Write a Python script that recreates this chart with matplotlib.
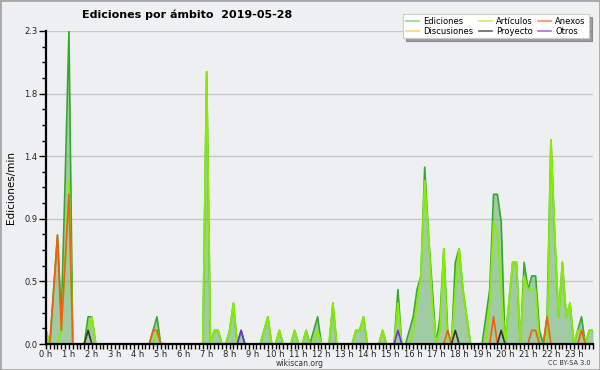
import matplotlib
matplotlib.use('Agg')
import matplotlib.pyplot as plt
import numpy as np
from matplotlib.lines import Line2D
from matplotlib.patches import Rectangle
from matplotlib.ticker import FixedLocator

# 10-minute bins (144 per day), values in edits/min
ediciones = [
    0.1, 0.0, 0.4, 0.8, 0.2, 1.2, 2.3, 0.0, 0.0, 0.0, 0.0, 0.2,
    0.2, 0.0, 0.0, 0.0, 0.0, 0.0, 0.0, 0.0, 0.0, 0.0, 0.0, 0.0,
    0.0, 0.0, 0.0, 0.0, 0.1, 0.2, 0.0, 0.0, 0.0, 0.0, 0.0, 0.0,
    0.0, 0.0, 0.0, 0.0, 0.0, 0.0, 2.0, 0.0, 0.1, 0.1, 0.0, 0.0,
    0.1, 0.3, 0.0, 0.1, 0.0, 0.0, 0.0, 0.0, 0.0, 0.1, 0.2, 0.0,
    0.0, 0.1, 0.0, 0.0, 0.0, 0.1, 0.0, 0.0, 0.1, 0.0, 0.1, 0.2,
    0.0, 0.0, 0.0, 0.3, 0.0, 0.0, 0.0, 0.0, 0.0, 0.1, 0.1, 0.2,
    0.0, 0.0, 0.0, 0.0, 0.1, 0.0, 0.0, 0.0, 0.4, 0.0, 0.0, 0.1,
    0.2, 0.4, 0.5, 1.3, 0.8, 0.4, 0.0, 0.2, 0.7, 0.1, 0.0, 0.6,
    0.7, 0.4, 0.2, 0.0, 0.0, 0.0, 0.0, 0.2, 0.4, 1.1, 1.1, 0.9,
    0.0, 0.3, 0.6, 0.6, 0.0, 0.6, 0.4, 0.5, 0.5, 0.1, 0.0, 0.2,
    1.5, 0.8, 0.2, 0.6, 0.2, 0.3, 0.0, 0.1, 0.2, 0.0, 0.1, 0.1,
]
articulos = [
    0.1, 0.0, 0.0, 0.0, 0.1, 0.6, 1.2, 0.0, 0.0, 0.0, 0.0, 0.1,
    0.2, 0.0, 0.0, 0.0, 0.0, 0.0, 0.0, 0.0, 0.0, 0.0, 0.0, 0.0,
    0.0, 0.0, 0.0, 0.0, 0.0, 0.1, 0.0, 0.0, 0.0, 0.0, 0.0, 0.0,
    0.0, 0.0, 0.0, 0.0, 0.0, 0.0, 2.0, 0.0, 0.1, 0.1, 0.0, 0.0,
    0.1, 0.3, 0.0, 0.0, 0.0, 0.0, 0.0, 0.0, 0.0, 0.1, 0.2, 0.0,
    0.0, 0.1, 0.0, 0.0, 0.0, 0.1, 0.0, 0.0, 0.1, 0.0, 0.0, 0.1,
    0.0, 0.0, 0.0, 0.3, 0.0, 0.0, 0.0, 0.0, 0.0, 0.1, 0.1, 0.2,
    0.0, 0.0, 0.0, 0.0, 0.1, 0.0, 0.0, 0.0, 0.3, 0.0, 0.0, 0.0,
    0.1, 0.3, 0.5, 1.2, 0.8, 0.3, 0.0, 0.1, 0.7, 0.0, 0.0, 0.4,
    0.7, 0.4, 0.2, 0.0, 0.0, 0.0, 0.0, 0.0, 0.3, 0.9, 0.8, 0.4,
    0.0, 0.3, 0.6, 0.6, 0.0, 0.5, 0.4, 0.4, 0.4, 0.0, 0.0, 0.0,
    1.5, 0.8, 0.2, 0.6, 0.2, 0.3, 0.0, 0.1, 0.1, 0.0, 0.1, 0.1,
]
anexos = [
    0.0, 0.0, 0.4, 0.8, 0.1, 0.6, 1.1, 0.0, 0.0, 0.0, 0.0, 0.0,
    0.0, 0.0, 0.0, 0.0, 0.0, 0.0, 0.0, 0.0, 0.0, 0.0, 0.0, 0.0,
    0.0, 0.0, 0.0, 0.0, 0.1, 0.1, 0.0, 0.0, 0.0, 0.0, 0.0, 0.0,
    0.0, 0.0, 0.0, 0.0, 0.0, 0.0, 0.0, 0.0, 0.0, 0.0, 0.0, 0.0,
    0.0, 0.0, 0.0, 0.0, 0.0, 0.0, 0.0, 0.0, 0.0, 0.0, 0.0, 0.0,
    0.0, 0.0, 0.0, 0.0, 0.0, 0.0, 0.0, 0.0, 0.0, 0.0, 0.0, 0.0,
    0.0, 0.0, 0.0, 0.0, 0.0, 0.0, 0.0, 0.0, 0.0, 0.0, 0.0, 0.0,
    0.0, 0.0, 0.0, 0.0, 0.0, 0.0, 0.0, 0.0, 0.0, 0.0, 0.0, 0.0,
    0.0, 0.0, 0.0, 0.0, 0.0, 0.0, 0.0, 0.0, 0.0, 0.1, 0.0, 0.0,
    0.0, 0.0, 0.0, 0.0, 0.0, 0.0, 0.0, 0.0, 0.0, 0.2, 0.0, 0.0,
    0.0, 0.0, 0.0, 0.0, 0.0, 0.0, 0.0, 0.1, 0.1, 0.0, 0.0, 0.2,
    0.0, 0.0, 0.0, 0.0, 0.0, 0.0, 0.0, 0.0, 0.1, 0.0, 0.0, 0.0,
]
discusiones = [
    0.0, 0.0, 0.0, 0.0, 0.0, 0.0, 0.0, 0.0, 0.0, 0.0, 0.0, 0.0,
    0.0, 0.0, 0.0, 0.0, 0.0, 0.0, 0.0, 0.0, 0.0, 0.0, 0.0, 0.0,
    0.0, 0.0, 0.0, 0.0, 0.0, 0.0, 0.0, 0.0, 0.0, 0.0, 0.0, 0.0,
    0.0, 0.0, 0.0, 0.0, 0.0, 0.0, 0.0, 0.0, 0.0, 0.0, 0.0, 0.0,
    0.0, 0.0, 0.0, 0.0, 0.0, 0.0, 0.0, 0.0, 0.0, 0.0, 0.0, 0.0,
    0.0, 0.0, 0.0, 0.0, 0.0, 0.0, 0.0, 0.0, 0.0, 0.0, 0.0, 0.0,
    0.0, 0.0, 0.0, 0.0, 0.0, 0.0, 0.0, 0.0, 0.0, 0.0, 0.0, 0.0,
    0.0, 0.0, 0.0, 0.0, 0.0, 0.0, 0.0, 0.0, 0.0, 0.0, 0.0, 0.0,
    0.0, 0.0, 0.0, 0.0, 0.0, 0.0, 0.0, 0.0, 0.0, 0.0, 0.0, 0.0,
    0.0, 0.0, 0.0, 0.0, 0.0, 0.0, 0.0, 0.0, 0.0, 0.0, 0.0, 0.0,
    0.0, 0.0, 0.0, 0.0, 0.0, 0.0, 0.0, 0.0, 0.0, 0.0, 0.0, 0.0,
    0.0, 0.0, 0.0, 0.0, 0.0, 0.0, 0.0, 0.0, 0.0, 0.0, 0.0, 0.0,
]
proyecto = [
    0.0, 0.0, 0.0, 0.0, 0.0, 0.0, 0.0, 0.0, 0.0, 0.0, 0.0, 0.1,
    0.0, 0.0, 0.0, 0.0, 0.0, 0.0, 0.0, 0.0, 0.0, 0.0, 0.0, 0.0,
    0.0, 0.0, 0.0, 0.0, 0.0, 0.0, 0.0, 0.0, 0.0, 0.0, 0.0, 0.0,
    0.0, 0.0, 0.0, 0.0, 0.0, 0.0, 0.0, 0.0, 0.0, 0.0, 0.0, 0.0,
    0.0, 0.0, 0.0, 0.0, 0.0, 0.0, 0.0, 0.0, 0.0, 0.0, 0.0, 0.0,
    0.0, 0.0, 0.0, 0.0, 0.0, 0.0, 0.0, 0.0, 0.0, 0.0, 0.0, 0.0,
    0.0, 0.0, 0.0, 0.0, 0.0, 0.0, 0.0, 0.0, 0.0, 0.0, 0.0, 0.0,
    0.0, 0.0, 0.0, 0.0, 0.0, 0.0, 0.0, 0.0, 0.0, 0.0, 0.0, 0.0,
    0.0, 0.0, 0.0, 0.0, 0.0, 0.0, 0.0, 0.0, 0.0, 0.0, 0.0, 0.1,
    0.0, 0.0, 0.0, 0.0, 0.0, 0.0, 0.0, 0.0, 0.0, 0.0, 0.0, 0.1,
    0.0, 0.0, 0.0, 0.0, 0.0, 0.0, 0.0, 0.0, 0.0, 0.0, 0.0, 0.0,
    0.0, 0.0, 0.0, 0.0, 0.0, 0.0, 0.0, 0.0, 0.0, 0.0, 0.0, 0.0,
]
otros = [
    0.0, 0.0, 0.0, 0.0, 0.0, 0.0, 0.0, 0.0, 0.0, 0.0, 0.0, 0.0,
    0.0, 0.0, 0.0, 0.0, 0.0, 0.0, 0.0, 0.0, 0.0, 0.0, 0.0, 0.0,
    0.0, 0.0, 0.0, 0.0, 0.0, 0.0, 0.0, 0.0, 0.0, 0.0, 0.0, 0.0,
    0.0, 0.0, 0.0, 0.0, 0.0, 0.0, 0.0, 0.0, 0.0, 0.0, 0.0, 0.0,
    0.0, 0.0, 0.0, 0.1, 0.0, 0.0, 0.0, 0.0, 0.0, 0.0, 0.0, 0.0,
    0.0, 0.0, 0.0, 0.0, 0.0, 0.0, 0.0, 0.0, 0.0, 0.0, 0.0, 0.0,
    0.0, 0.0, 0.0, 0.0, 0.0, 0.0, 0.0, 0.0, 0.0, 0.0, 0.0, 0.0,
    0.0, 0.0, 0.0, 0.0, 0.0, 0.0, 0.0, 0.0, 0.1, 0.0, 0.0, 0.0,
    0.0, 0.0, 0.0, 0.0, 0.0, 0.0, 0.0, 0.0, 0.0, 0.0, 0.0, 0.0,
    0.0, 0.0, 0.0, 0.0, 0.0, 0.0, 0.0, 0.0, 0.0, 0.0, 0.0, 0.0,
    0.0, 0.0, 0.0, 0.0, 0.0, 0.0, 0.0, 0.0, 0.0, 0.0, 0.0, 0.0,
    0.0, 0.0, 0.0, 0.0, 0.0, 0.0, 0.0, 0.0, 0.0, 0.0, 0.0, 0.0,
]

hour_labels = ["0 h", "1 h", "2 h", "3 h", "4 h", "5 h", "6 h", "7 h", "8 h",
               "9 h", "10 h", "11 h", "12 h", "13 h", "14 h", "15 h", "16 h",
               "17 h", "18 h", "19 h", "20 h", "21 h", "22 h", "23 h"]
y_ticks = [0.0, 0.46, 0.92, 1.38, 1.84, 2.3]
y_tick_labels = ["0.0", "0.5", "0.9", "1.4", "1.8", "2.3"]

legend_labels = ["Ediciones", "Discusiones", "Artículos", "Proyecto", "Anexos", "Otros"]

x = np.arange(len(ediciones)) / 6.0

plt.rcParams['font.family'] = ['DejaVu Sans']

fig = plt.figure(figsize=(6, 3.7), dpi=100)
fig.patch.set_facecolor('#eff0f1')
ax = fig.add_axes([46 / 600, 26 / 370, 547 / 600, 313 / 370])
ax.set_facecolor('#eeeff0')

ax.fill_between(x, ediciones, 0, color='#55a855', alpha=0.5, lw=0, zorder=1.5)
ax.plot(x, ediciones, color='#36a832', lw=1.2, zorder=2)
ax.plot(x, articulos, color='#88ee00', lw=1.3, zorder=2.1)
ax.plot(x, discusiones, color='#f5c400', lw=1.2, zorder=2.1)
ax.plot(x, anexos, color='#f06010', lw=1.2, zorder=2.2)
ax.plot(x, proyecto, color='#333333', lw=1.2, zorder=2.2)
ax.plot(x, otros, color='#7030e0', lw=1.2, zorder=2.2)

ax.set_xlim(0, x[-1])
ax.set_ylim(0, 2.3)

ax.set_xticks(np.arange(24))
ax.set_xticklabels(hour_labels, fontsize=6, color='#222222')
ax.xaxis.set_minor_locator(FixedLocator(x))
ax.set_yticks(y_ticks)
ax.set_yticklabels(y_tick_labels, fontsize=6, color='#222222')
ax.yaxis.set_minor_locator(FixedLocator(np.arange(0, 2.3001, 0.115)))
ax.tick_params(axis='x', which='major', length=3.5, width=1, pad=0.5)
ax.tick_params(axis='x', which='minor', length=3.5, width=1)
ax.tick_params(axis='y', which='major', length=5, width=1, pad=1)
ax.tick_params(axis='y', which='minor', length=3, width=1)

ax.yaxis.grid(True, which='major', color='#c8c8c8', lw=1)
ax.set_axisbelow(True)
for s in ['top', 'right']:
    ax.spines[s].set_visible(False)
for s in ['left', 'bottom']:
    ax.spines[s].set_linewidth(1.6)
    ax.spines[s].set_color('black')

fig.text(187 / 600, 1 - 15 / 370, 'Ediciones por ámbito  2019-05-28',
         ha='center', va='center', fontsize=8, fontweight='bold')
fig.text(11 / 600, 1 - 188 / 370, 'Ediciones/min', rotation=90,
         ha='center', va='center', fontsize=7.5)
fig.text(300 / 600, 1 - 363.5 / 370, 'wikiscan.org', ha='center', va='center',
         fontsize=5.5, color='#333333')
fig.text(591 / 600, 1 - 363 / 370, 'CC BY-SA 3.0', ha='right', va='center',
         fontsize=4.8, color='#333333')

legend_colors = ['#8fd88f', '#ffd966', '#cdf060', '#666666', '#f59060', '#a070f0']
handles = [Line2D([], [], color=c, lw=1.2) for c in legend_colors]
leg = fig.legend(handles, legend_labels, ncol=3, loc='upper right',
                 bbox_to_anchor=(593 / 600, 1 - 10 / 370), fontsize=6,
                 frameon=True, shadow=True, fancybox=False,
                 handlelength=1.6, columnspacing=0.6, handletextpad=0.5,
                 labelspacing=0.05, borderpad=0.35)
leg.get_frame().set_edgecolor('#cccccc')
leg.get_frame().set_linewidth(0.8)
leg.get_frame().set_facecolor('white')

fig.add_artist(Rectangle((0, 0), 1, 1, transform=fig.transFigure, fill=False,
                         ec='#a8a8a8', lw=2))

fig.savefig('out.png', dpi=100, facecolor=fig.get_facecolor())
